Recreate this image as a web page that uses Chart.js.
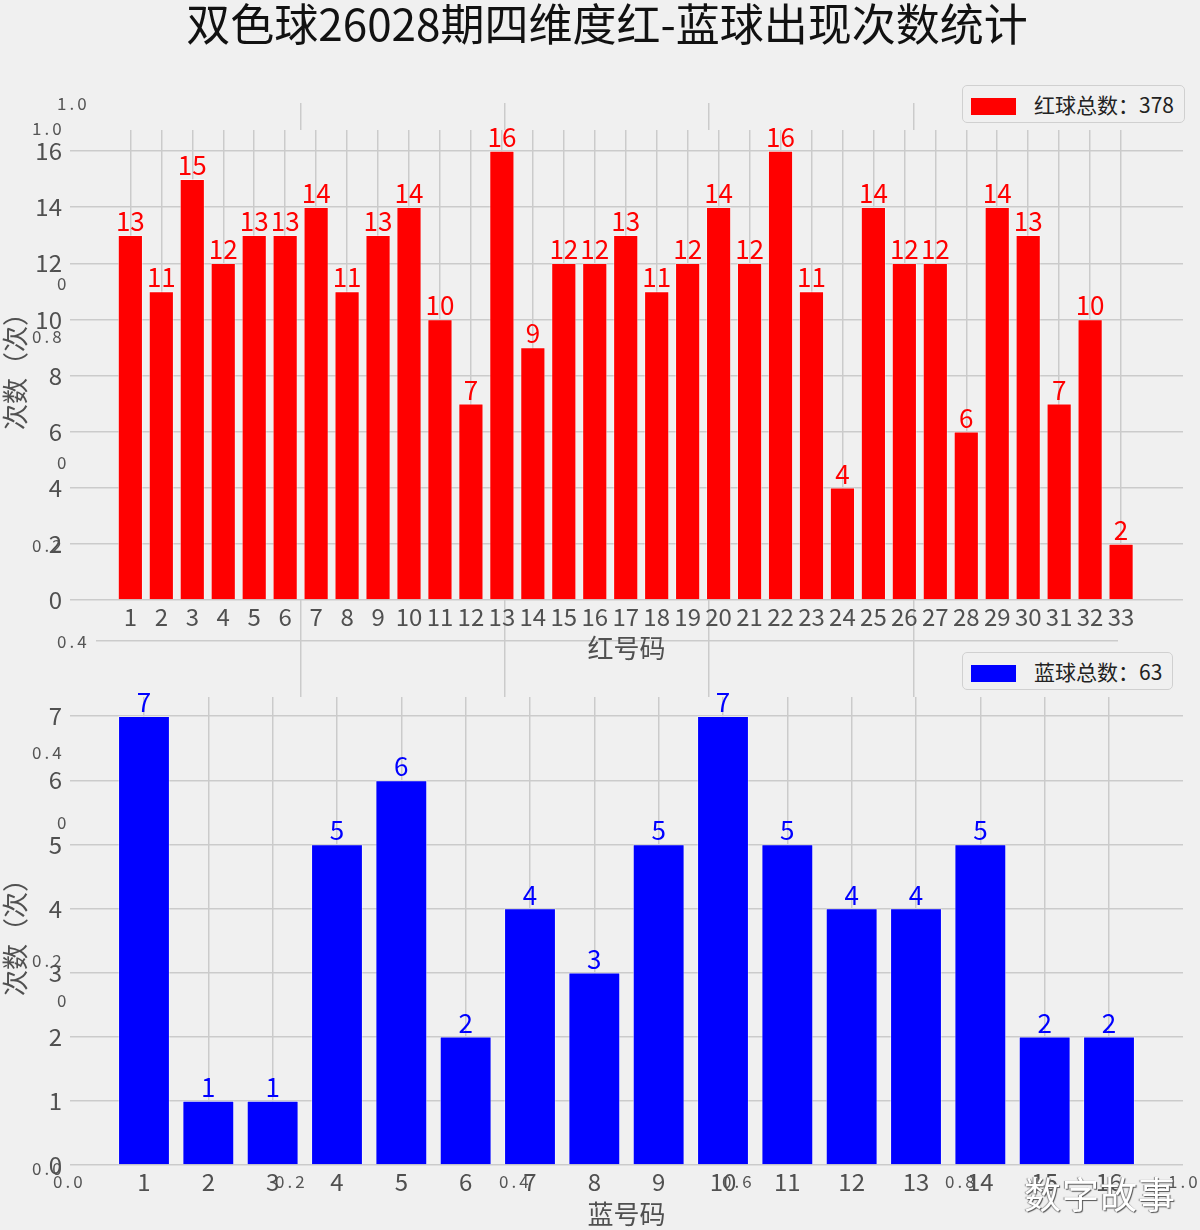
<!DOCTYPE html>
<html>
<head>
<meta charset="utf-8">
<script src="https://cdn.jsdelivr.net/npm/chart.js@4.4.1/dist/chart.umd.min.js"></script>
<style>
  body { margin: 0; background: #f0f0f0; }
  #wrap { position: relative; width: 1200px; height: 1230px; overflow: hidden; background: #f0f0f0;
          font-family: 'Noto Sans CJK SC', sans-serif; }
  canvas { position: absolute; left: 0; }
  #title { position: absolute; left: 7px; width: 1200px; top: -5px; text-align: center;
           font-size: 44px; color: #111; line-height: 54px; }
  .legend { position: absolute; left: 962px; height: 36px; border: 1px solid #d0d0d0; border-radius: 5px;
            background: #f0f0f0; font-size: 21px; color: #222; line-height: 36px; padding-right: 10px; }
  .legend i { display: inline-block; width: 45px; height: 17px; margin: 0 18px 0 8px; vertical-align: -2px; }
  .ghost { position: absolute; font-size: 17px; color: #555; letter-spacing: 3px; line-height: 20px; }
  #mark { position: absolute; left: 1024px; top: 1166px; font-size: 37px; color: #fff; letter-spacing: 1px;
          text-shadow: 1px 1px 1px #555, -1px 0 1px #888; }
</style>
</head>
<body>
<div id="wrap">
  <canvas id="ghost" width="1200" height="1230" style="top:0"></canvas>
  <div id="ghostText"></div>
  <canvas id="redChart" width="1200" height="560" style="top:120px"></canvas>
  <canvas id="blueChart" width="1200" height="540" style="top:690px"></canvas>
  <div id="title">双色球26028期四维度红-蓝球出现次数统计</div>
  <div class="legend" style="top:85px"><i style="background:#ff0000"></i>红球总数：378</div>
  <div class="legend" style="top:652px"><i style="background:#0000ff"></i>蓝球总数：63</div>
  <div id="mark">数字故事</div>
</div>
<script>
// red balls
const redNums = [1, 2, 3, 4, 5, 6, 7, 8, 9, 10, 11, 12, 13, 14, 15, 16, 17, 18, 19, 20, 21, 22, 23, 24, 25, 26, 27, 28, 29, 30, 31, 32, 33];
const redCounts = [13, 11, 15, 12, 13, 13, 14, 11, 13, 14, 10, 7, 16, 9, 12, 12, 13, 11, 12, 14, 12, 16, 11, 4, 14, 12, 12, 6, 14, 13, 7, 10, 2];
const redYTicks = [0, 2, 4, 6, 8, 10, 12, 14, 16];

// blue balls
const blueNums = [1, 2, 3, 4, 5, 6, 7, 8, 9, 10, 11, 12, 13, 14, 15, 16];
const blueCounts = [7, 1, 1, 5, 6, 2, 4, 3, 5, 7, 5, 4, 4, 5, 2, 2];
const blueYTicks = [0, 1, 2, 3, 4, 5, 6, 7];

// leftover 0..1 axes that show through behind the plots
const ghostTicks = [0.2, 0.4, 0.6, 0.8];
const ghostLabels = [
    ['1.0', 57, 103], ['1.0', 32, 128], ['0', 57, 283], ['0.8', 32, 336],
    ['0', 57, 462], ['0.2', 32, 545], ['0.4', 57, 641], ['0.4', 32, 752],
    ['0', 57, 822], ['0.2', 32, 960], ['0', 57, 1000], ['0.0', 32, 1168],
    ['0.0', 53, 1181], ['0.2', 275, 1181], ['0.4', 499, 1181], ['0.6', 722, 1181],
    ['0.8', 945, 1181], ['1.0', 1168, 1181]
];

const FONT = "'Noto Sans CJK SC', sans-serif";
const GRID = '#cbcbcb';
const TICK = '#505050';

Chart.defaults.font.family = FONT;
Chart.defaults.animation = false;

const gt = document.getElementById('ghostText');
ghostLabels.forEach(([t, x, y]) => {
    const s = document.createElement('span');
    s.className = 'ghost';
    s.textContent = t;
    s.style.left = x + 'px';
    s.style.top = (y - 10) + 'px';
    gt.appendChild(s);
});

const plotBg = {
    id: 'plotBg',
    beforeDraw(chart) {
        const a = chart.chartArea;
        chart.ctx.save();
        chart.ctx.fillStyle = '#f0f0f0';
        chart.ctx.fillRect(a.left, a.top, a.right - a.left, a.bottom - a.top);
        chart.ctx.restore();
    }
};

const barLabels = {
    id: 'barLabels',
    afterDatasetsDraw(chart, args, opts) {
        const ctx = chart.ctx;
        const meta = chart.getDatasetMeta(0);
        ctx.save();
        ctx.font = opts.size + 'px ' + FONT;
        ctx.fillStyle = opts.color;
        ctx.textAlign = 'center';
        ctx.textBaseline = 'alphabetic';
        meta.data.forEach((bar, i) => {
            ctx.fillText(String(chart.data.datasets[0].data[i].y), bar.x, bar.y - 4);
        });
        ctx.restore();
    }
};

// no extra label padding around the plot area
function noPad(s) {
    s.paddingTop = 0; s.paddingBottom = 0; s.paddingLeft = 0; s.paddingRight = 0;
}

// background axes, only the grid
new Chart(document.getElementById('ghost'), {
    type: 'scatter',
    data: { datasets: [] },
    options: {
        responsive: false,
        layout: { padding: { left: 96, right: 82, top: 103, bottom: 230 } },
        plugins: { legend: { display: false }, tooltip: { enabled: false } },
        scales: {
            x: {
                type: 'linear', min: 0, max: 1,
                afterBuildTicks: s => { s.ticks = ghostTicks.map(v => ({ value: v })); },
                afterFit: s => { s.height = 0; noPad(s); },
                ticks: { display: false },
                grid: { color: GRID, lineWidth: 1.5, drawTicks: false },
                border: { display: false }
            },
            y: {
                type: 'linear', min: 0, max: 1,
                afterBuildTicks: s => { s.ticks = ghostTicks.map(v => ({ value: v })); },
                afterFit: s => { s.width = 0; noPad(s); },
                ticks: { display: false },
                grid: { color: GRID, lineWidth: 1.5, drawTicks: false },
                border: { display: false }
            }
        }
    }
});

function barChart(el, nums, counts, yTicks, cfg) {
    return new Chart(el, {
        type: 'bar',
        data: {
            datasets: [{
                data: nums.map((n, i) => ({ x: n, y: counts[i] })),
                backgroundColor: cfg.color,
                borderColor: 'rgba(255,255,255,0.6)',
                borderWidth: 0.8,
                barPercentage: 0.8,
                categoryPercentage: 1
            }]
        },
        options: {
            responsive: false,
            layout: { padding: { top: cfg.padTop, right: 17, left: 0, bottom: cfg.padBottom } },
            plugins: {
                legend: { display: false },
                tooltip: { enabled: false },
                barLabels: { color: cfg.color, size: 26 }
            },
            scales: {
                x: {
                    type: 'linear',
                    offset: false,
                    min: cfg.xMin, max: cfg.xMax,
                    afterBuildTicks: s => { s.ticks = nums.map(v => ({ value: v })); },
                    afterFit: s => { s.height = cfg.xH; noPad(s); },
                    ticks: { autoSkip: false, maxRotation: 0, padding: 2, color: TICK,
                             font: { size: 24 }, callback: v => String(v) },
                    grid: { color: GRID, lineWidth: 1.5, drawTicks: false, offset: false },
                    border: { display: false },
                    title: { display: true, text: cfg.xTitle, color: TICK, font: { size: 26 },
                             padding: { top: 0, bottom: 0 } }
                },
                y: {
                    min: 0, max: cfg.yMax,
                    afterBuildTicks: s => { s.ticks = yTicks.map(v => ({ value: v })); },
                    afterFit: s => { s.width = 70; noPad(s); },
                    ticks: { padding: 8, color: TICK, font: { size: 24 } },
                    grid: { color: GRID, lineWidth: 1.5, drawTicks: false },
                    border: { display: false },
                    title: { display: true, text: '次数（次）', color: TICK, font: { size: 26 },
                             padding: { top: 0, bottom: 0, left: cfg.yTitlePad } }
                }
            }
        },
        plugins: [plotBg, barLabels]
    });
}

barChart(document.getElementById('redChart'), redNums, redCounts, redYTicks, {
    color: '#ff0000', padTop: 10, padBottom: 16, xMin: -0.95, xMax: 35, yMax: 16.75, xH: 64,
    xTitle: '红号码', yTitlePad: 0
});

barChart(document.getElementById('blueChart'), blueNums, blueCounts, blueYTicks, {
    color: '#0000ff', padTop: 7, padBottom: 0, xMin: -0.15, xMax: 17.15, yMax: 7.3, xH: 65,
    xTitle: '蓝号码', yTitlePad: 14
});
</script>
</body>
</html>
